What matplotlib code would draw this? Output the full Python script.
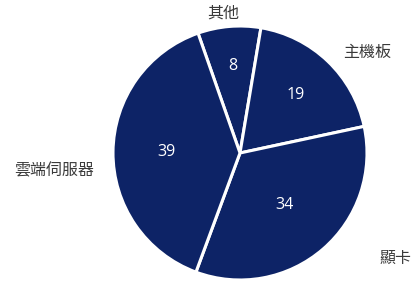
import numpy as np
import matplotlib
matplotlib.use("Agg")
import matplotlib.pyplot as plt

plt.rcParams['font.family'] = ['Noto Sans CJK TC', 'DejaVu Sans']

# data
labels = ['其他', '主機板', '顯卡', '雲端伺服器']
values = [8, 19, 34, 39]

# label layout: distance from centre (in radii) and angle shift (deg)
lab_r = [1.11, 1.28, 1.48, 1.47]
lab_shift = [2, -8, 15, 6]
num_r = [0.69, 0.63, 0.54, 0.58]

fig = plt.figure(figsize=(4.13, 2.84), dpi=100)
ax = fig.add_axes([(240 - 127) / 413, (284 - 153 - 127) / 284, 254 / 413, 254 / 284])

wedges, _ = ax.pie(values, startangle=109.3, counterclock=False,
                   colors=['#0d2366'] * 4,
                   wedgeprops=dict(edgecolor='white', linewidth=2.2))

for w, lab, v, lr, ls, nr in zip(wedges, labels, values, lab_r, lab_shift, num_r):
    mid = np.deg2rad((w.theta1 + w.theta2) / 2)
    ax.text(nr * np.cos(mid), nr * np.sin(mid), str(v), color='white',
            ha='center', va='center', fontsize=11.5, family=['Open Sans', 'DejaVu Sans'])
    a = mid + np.deg2rad(ls)
    ax.text(lr * np.cos(a), lr * np.sin(a), lab, color='#3a3a3a',
            ha='center', va='center', fontsize=11.5)

ax.set_xlim(-1, 1)
ax.set_ylim(-1, 1)
ax.set_aspect('equal')
ax.axis('off')

fig.savefig('out.png', dpi=100)
